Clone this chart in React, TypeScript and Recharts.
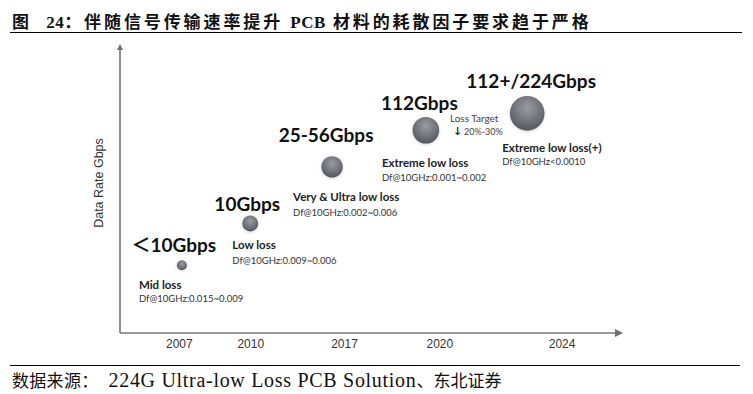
import React from "react";
import { ScatterChart, Scatter, XAxis, YAxis, ZAxis } from "recharts";

// timeline positions are on a 0-100 scale (the original x axis is not linear in years)
const years = ["2007", "2010", "2017", "2020", "2024"];
const yearTickPos = [11.9, 26.2, 45.0, 64.1, 88.6];
const bubbleX = [12.4, 26.1, 42.5, 61.3, 81.6];
const rateLevel = [23.7, 38.3, 58.1, 70.9, 76.8];
const bubbleArea = [78, 200, 360, 556, 940];
const rateLabels = ["＜10Gbps", "10Gbps", "25-56Gbps", "112Gbps", "112+/224Gbps"];
const lossGrades = ["Mid loss", "Low loss", "Very & Ultra low loss", "Extreme low loss", "Extreme low loss(+)"];
const dfRanges = [
  "Df@10GHz:0.015~0.009",
  "Df@10GHz:0.009~0.006",
  "Df@10GHz:0.002~0.006",
  "Df@10GHz:0.001~0.002",
  "Df@10GHz<0.0010",
];
const lossTarget = "20%-30%";

const points = years.map((y, i) => ({
  year: y,
  x: bubbleX[i],
  y: rateLevel[i],
  z: bubbleArea[i],
  rate: rateLabels[i],
  grade: lossGrades[i],
  df: dfRanges[i],
}));

// label offsets from bubble centre
const LAYOUT = [
  { rate: [-8, -21], sub: [-43, 19], df: [-43, 33] },
  { rate: [-3, -20], sub: [-18, 21], df: [-18, 37] },
  { rate: [-6, -32], sub: [-39, 30], df: [-39, 46] },
  { rate: [-6.5, -28], sub: [-44, 32], df: [-44, 47] },
  { rate: [4, -33], sub: [-25, 34], df: [-25, 48] },
];

const SANS = "Lato, 'Open Sans', 'Noto Sans CJK SC', sans-serif";
const SERIF = "'Liberation Serif', 'Noto Sans CJK SC', serif";
const CJK = "'Noto Sans CJK SC', serif";

function Bubble(props: any) {
  const { cx, cy, width, index } = props;
  const r = width / 2;
  const p = props.payload;
  const l = LAYOUT[index];
  return (
    <g>
      <circle cx={cx} cy={cy + 1} r={r + 0.5} fill="#000" opacity={0.12} filter="url(#soft)" />
      <circle cx={cx} cy={cy} r={r} fill="url(#ball)" />
      <text
        x={cx + l.rate[0]} y={cy + l.rate[1]} textAnchor="middle" dominantBaseline="central"
        fontFamily={SANS} fontWeight={700} fontSize={19} fill="#111"
      >
        {p.rate}
      </text>
      <text
        x={cx + l.sub[0]} y={cy + l.sub[1]} dominantBaseline="central"
        fontFamily={SANS} fontWeight={700} fontSize={11.5} fill="#222"
      >
        {p.grade}
      </text>
      <text
        x={cx + l.df[0]} y={cy + l.df[1]} dominantBaseline="central"
        fontFamily={SANS} fontSize={9.5} fill="#333"
      >
        {p.df}
      </text>
      {index === 3 && (
        <g>
          <text x={cx + 24} y={cy - 12} dominantBaseline="central" fontFamily={SANS} fontSize={10} fill="#444">
            Loss Target
          </text>
          <text x={cx + 27} y={cy + 1} dominantBaseline="central" fontFamily={SANS} fontSize={9} fill="#444">
            <tspan fontFamily="DejaVu Sans" fontWeight={700} fontSize={11} fill="#333">↓</tspan>
            <tspan dx={2}>{lossTarget}</tspan>
          </text>
        </g>
      )}
    </g>
  );
}

function AxisTitle(props: any) {
  const vb = props.viewBox || {};
  const x = vb.x + vb.width - 21;
  const y = vb.y + vb.height / 2 - 7;
  return (
    <text
      x={x} y={y} transform={`rotate(-90 ${x} ${y})`} textAnchor="middle" dominantBaseline="central"
      fontFamily="'Liberation Sans', Arial, sans-serif" fontSize={12.5} fill="#333"
    >
      Data Rate Gbps
    </text>
  );
}

function yearLabel(v: number) {
  const i = yearTickPos.indexOf(v);
  return i >= 0 ? years[i] : "";
}

export default function App() {
  return (
    <div style={{ position: "absolute", left: 0, top: 0, width: 753, height: 394, background: "#fff" }}>
      <div
        style={{
          position: "absolute", left: 12, top: 8, fontSize: 17, fontWeight: 700, letterSpacing: 2.9,
          fontFamily: SERIF, whiteSpace: "nowrap", color: "#111",
        }}
      >
        图&nbsp;&nbsp;<span style={{ letterSpacing: 0.5 }}>24</span>：伴随信号传输速率提升 <span style={{ letterSpacing: 0.5 }}>PCB</span> 材料的耗散因子要求趋于严格
      </div>
      <div style={{ position: "absolute", left: 10, top: 32, width: 732, borderTop: "1.5px solid #000" }} />

      <ScatterChart width={753} height={394} margin={{ top: 47, right: 134, bottom: 41, left: 110 }}>
        <defs>
          <radialGradient id="ball" cx="50%" cy="35%" r="65%">
            <stop offset="0%" stopColor="#9b9da5" />
            <stop offset="100%" stopColor="#55575f" />
          </radialGradient>
          <filter id="soft" x="-50%" y="-50%" width="200%" height="200%">
            <feGaussianBlur stdDeviation="1.5" />
          </filter>
          <marker id="arrow" viewBox="0 0 10 10" refX="5" refY="5" markerWidth="4" markerHeight="4" orient="auto-start-reverse">
            <path d="M0,0 L10,5 L0,10 z" fill="#6f7178" />
          </marker>
        </defs>
        <XAxis
          type="number" dataKey="x" domain={[0, 100]} ticks={yearTickPos} tickFormatter={yearLabel}
          height={20} tickLine={false} tickMargin={0}
          axisLine={{ stroke: "#9a9a9a", strokeWidth: 2, markerEnd: "url(#arrow)" }}
          tick={{ fill: "#333", fontSize: 12, fontFamily: "'Liberation Sans', Arial, sans-serif" }}
          interval={0}
        />
        <YAxis
          type="number" dataKey="y" domain={[0, 100]} width={10} tick={false} tickLine={false}
          axisLine={{ stroke: "#6b6e75", strokeWidth: 1.5, markerStart: "url(#arrow)" }}
          label={<AxisTitle />}
        />
        <ZAxis type="number" dataKey="z" domain={[0, 1000]} range={[0, 1000]} />
        <Scatter data={points} shape={<Bubble />} isAnimationActive={false} />
      </ScatterChart>

      <div style={{ position: "absolute", left: 10, top: 365, width: 730, borderTop: "1.5px solid #000" }} />
      <div
        style={{
          position: "absolute", left: 12, top: 368, lineHeight: "24px", whiteSpace: "nowrap", color: "#111",
        }}
      >
        <span style={{ fontFamily: CJK, fontSize: 17, letterSpacing: 0.3 }}>数据来源：</span>
        <span style={{ fontFamily: SERIF, fontSize: 20, marginLeft: 10, letterSpacing: 0.7 }}>224G Ultra-low Loss PCB Solution</span>
        <span style={{ fontFamily: CJK, fontSize: 17 }}>、东北证券</span>
      </div>
    </div>
  );
}
